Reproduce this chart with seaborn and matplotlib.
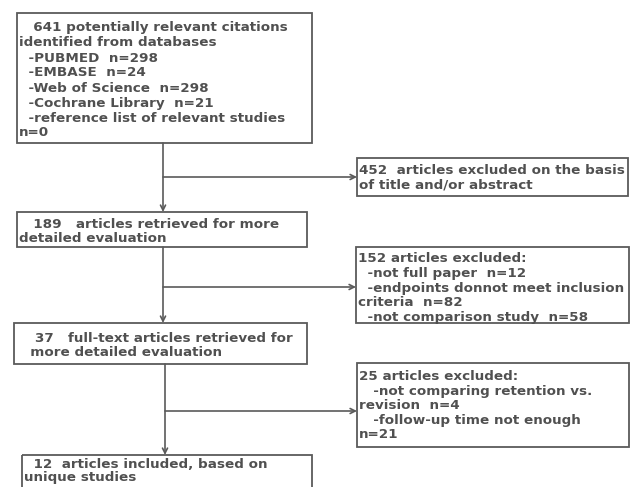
import matplotlib
matplotlib.use("Agg")
import matplotlib.pyplot as plt
import matplotlib.patches as mpatches
import seaborn as sns

# 流程图各框文字（数据）
# ----------------------------
identified_lines = [
    "   641 potentially relevant citations",
    "identified from databases",
    "  -PUBMED  n=298",
    "  -EMBASE  n=24",
    "  -Web of Science  n=298",
    "  -Cochrane Library  n=21",
    "  -reference list of relevant studies",
    "n=0",
]
retrieved_lines = [
    "   189   articles retrieved for more",
    "detailed evaluation",
]
fulltext_lines = [
    "    37   full-text articles retrieved for",
    "   more detailed evaluation",
]
included_lines = [
    "  12  articles included, based on",
    "unique studies",
]
excl_title_lines = [
    "452  articles excluded on the basis",
    "of title and/or abstract",
]
excl_152_lines = [
    "152 articles excluded:",
    "  -not full paper  n=12",
    "  -endpoints donnot meet inclusion",
    "criteria  n=82",
    "  -not comparison study  n=58",
]
excl_25_lines = [
    "25 articles excluded:",
    "   -not comparing retention vs.",
    "revision  n=4",
    "   -follow-up time not enough",
    "n=21",
]

# 布局（像素坐标：左, 上, 右, 下；首行偏移, 行距）
# ----------------------------
boxes = [
    (identified_lines, (17, 13, 312, 143), 15, 15.0),
    (retrieved_lines, (17, 212, 307, 247), 12, 14.0),
    (fulltext_lines, (14, 323, 307, 364), 15, 14.0),
    (included_lines, (22, 455, 312, 500), 9, 14.0),
    (excl_title_lines, (357, 158, 628, 196), 13, 14.0),
    (excl_152_lines, (356, 247, 629, 323), 12, 14.6),
    (excl_25_lines, (357, 363, 629, 447), 14, 14.4),
]
TEXT_COLOR = "#505050"
EDGE_COLOR = "#5a5a5a"

sns.set_theme(style="white")
plt.rcParams['font.family'] = ['DejaVu Sans']

fig = plt.figure(figsize=(6.32, 4.87), dpi=100)
ax = fig.add_axes([0, 0, 1, 1])
ax.set_xlim(0, 632)
ax.set_ylim(487, 0)
ax.axis('off')

for lines, (x0, y0, x1, y1), first, step in boxes:
    rect = mpatches.Rectangle((x0, y0), x1 - x0, y1 - y0, fill=False,
                              edgecolor=EDGE_COLOR, linewidth=1.3, clip_on=False)
    ax.add_patch(rect)
    for i, line in enumerate(lines):
        ax.text(x0 + 2, y0 + first + i * step, line, ha='left', va='center',
                fontsize=9.7, fontweight='bold', color=TEXT_COLOR)

arrow_kw = dict(arrowstyle='->', color=EDGE_COLOR, lw=1.2,
                shrinkA=0, shrinkB=0, mutation_scale=9)

# 竖直主线及分支箭头
trunk = [
    ((163, 143), (163, 212), 177, 357),
    ((163, 247), (163, 323), 287, 356),
    ((165, 364), (165, 455), 411, 357),
]
for (xa, ya), (xb, yb), yb_branch, x_target in trunk:
    ax.annotate('', xy=(xb, yb), xytext=(xa, ya), arrowprops=arrow_kw)
    ax.annotate('', xy=(x_target, yb_branch), xytext=(xa, yb_branch),
                arrowprops=arrow_kw)

fig.savefig('out.png', dpi=100)
